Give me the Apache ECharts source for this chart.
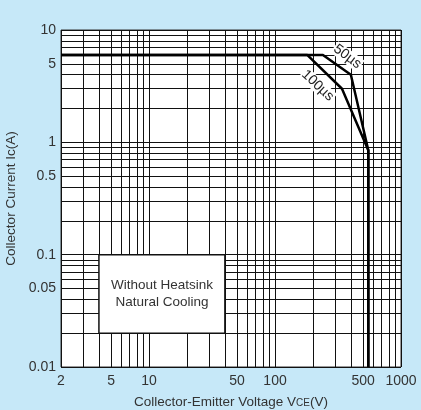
<!DOCTYPE html>
<html>
<head>
<meta charset="utf-8">
<script src="https://cdn.jsdelivr.net/npm/echarts@6/dist/echarts.min.js"></script>
<style>
html,body{margin:0;padding:0;background:#c6e8f8;}
#chart{width:421px;height:410px;}
</style>
</head>
<body>
<div id="chart"></div>
<script>
// ---- data ----
const xTickValues = [2,3,4,5,6,7,8,9,10,20,30,40,50,60,70,80,90,100,200,300,400,500,600,700,800,900,1000];
const xLabelValues = [2,5,10,50,100,500,1000];
const yTickValues = [0.01,0.02,0.03,0.04,0.05,0.06,0.07,0.08,0.09,0.1,0.2,0.3,0.4,0.5,0.6,0.7,0.8,0.9,1,2,3,4,5,6,7,8,9,10];
const yLabelValues = [0.01,0.05,0.1,0.5,1,5,10];
const pulse50us = [[2,6],[240,6],[400,4],[550,0.85],[550,0.01]];
const pulse100us = [[2,6],[180,6],[340,3],[550,0.85],[550,0.01]];
const label50Pos = [375,5.8];
const label100Pos = [218,3.2];
const noteBox = [[4,0.1],[40,0.02]];
const noteText = 'Without Heatsink\nNatural Cooling';
const titleText = 'Safe Operating Area (Single Pulse)';

const FONT = '"Liberation Sans", Arial, sans-serif';
const chart = echarts.init(document.getElementById('chart'), null, {renderer:'canvas'});

const gridLine = {show:true, lineStyle:{color:'#111', width:1}};

chart.setOption({
  backgroundColor:'#c6e8f8',
  animation:false,
  textStyle:{fontFamily:FONT},
  graphic:[{
    type:'text', x:239, y:-9,
    style:{text:titleText, fontSize:19, fontFamily:FONT, fill:'#333', textAlign:'center', textVerticalAlign:'middle'}
  }],
  grid:{left:61, right:20, top:30, bottom:43, containLabel:false, outerBoundsMode:'none', show:true, backgroundColor:'#ffffff', borderColor:'#333', borderWidth:1},
  xAxis:{
    type:'log', logBase:10, min:2, max:1000,
    axisLine:{show:false}, axisTick:{show:false, customValues:xTickValues},
    splitLine:gridLine, minorSplitLine:{show:false},
    axisLabel:{customValues:xLabelValues, formatter:(v)=>String(+v.toPrecision(6)), color:'#333', fontSize:14, margin:7, fontFamily:FONT},
    name:'{a|Collector-Emitter Voltage V}{s|CE}{a|(V)}', nameLocation:'middle', nameGap:28,
    nameTextStyle:{rich:{a:{fontSize:13.5, color:'#333', fontFamily:FONT}, s:{fontSize:10, color:'#333', fontFamily:FONT, padding:[3,0,0,0]}}}
  },
  yAxis:{
    type:'log', logBase:10, min:0.01, max:10,
    axisLine:{show:false}, axisTick:{show:false, customValues:yTickValues},
    splitLine:gridLine, minorSplitLine:{show:false},
    axisLabel:{customValues:yLabelValues, formatter:(v)=>String(+v.toPrecision(6)), color:'#333', fontSize:14, margin:5, fontFamily:FONT},
    name:'Collector Current Ic(A)', nameLocation:'middle', nameGap:33, nameRotate:90,
    nameTextStyle:{fontSize:13.5, color:'#333', fontFamily:FONT}
  },
  series:[
    {
      name:'50us', type:'line', data:pulse50us, symbol:'none', z:3,
      lineStyle:{color:'#000', width:2.5},
      markArea:{
        silent:true,
        itemStyle:{color:'#ffffff', borderColor:'#111', borderWidth:1.5},
        label:{show:true, position:'inside', color:'#333', fontSize:13.5, lineHeight:17, fontFamily:FONT},
        data:[[{coord:noteBox[0], name:noteText},{coord:noteBox[1]}]]
      },
      markPoint:{
        symbol:'circle', symbolSize:0, silent:true,
        label:{show:true, position:'inside', formatter:'50µs', rotate:-37, color:'#222', fontSize:14, fontFamily:FONT, backgroundColor:'#fff', padding:[0,1]},
        data:[{coord:label50Pos}]
      }
    },
    {
      name:'100us', type:'line', data:pulse100us, symbol:'none', z:3,
      lineStyle:{color:'#000', width:2.5},
      markPoint:{
        symbol:'circle', symbolSize:0, silent:true,
        label:{show:true, position:'inside', formatter:'100µs', rotate:-43, color:'#222', fontSize:14, fontFamily:FONT, backgroundColor:'#fff', padding:[0,1]},
        data:[{coord:label100Pos}]
      }
    }
  ]
});
</script>
</body>
</html>
